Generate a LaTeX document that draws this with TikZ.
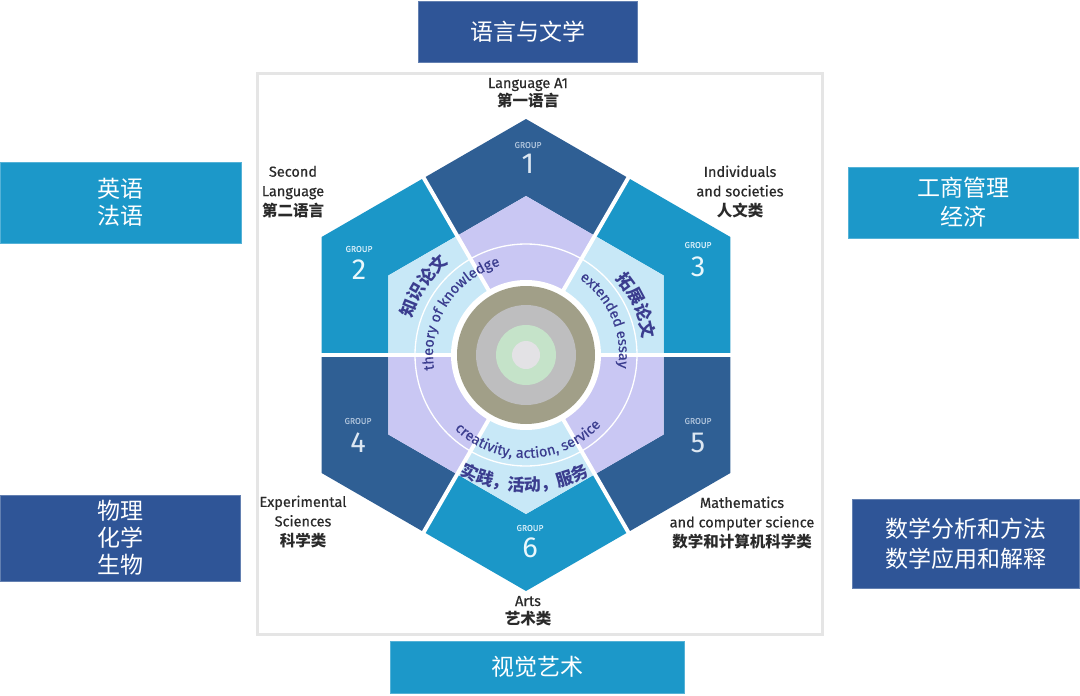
\documentclass[tikz,border=0pt]{standalone}
\usepackage{fontspec}
\setmainfont{Fira Sans}
\newfontfamily\medfont{Fira Sans}[FakeBold=0.4]
\newfontfamily\cjk{Noto Sans CJK SC}
\usetikzlibrary{decorations.text}
\definecolor{boxdark}{HTML}{2F5597}
\definecolor{boxcyan}{HTML}{1C98C9}
\definecolor{gdark}{HTML}{2F5F94}
\definecolor{gcyan}{HTML}{1B97C8}
\definecolor{lav}{HTML}{C9C7F3}
\definecolor{lblue}{HTML}{C8E8F7}
\definecolor{olive}{HTML}{A19F88}
\definecolor{cgray}{HTML}{BEBEBF}
\definecolor{cgreen}{HTML}{C5E3C9}
\definecolor{clight}{HTML}{E3E2E5}
\definecolor{arctext}{HTML}{3B3D8F}
\definecolor{labeltext}{HTML}{2A2A2A}
\definecolor{grpdark}{HTML}{AFC4DC}
\definecolor{digdark}{HTML}{DCE7F2}
\definecolor{grpcyan}{HTML}{D6EEF9}
\definecolor{digcyan}{HTML}{EAF7FC}
\tikzset{
  sidebox/.style={inner sep=0pt, align=center, text=white, fill=#1, draw=#1!75!white, line width=0.6pt,
    font=\cjk\fontsize{23}{28}\selectfont},
  lbl/.style={inner sep=0pt, align=center, text=labeltext, font=\medfont\fontsize{14.5}{19.5}\selectfont},
  grplbl/.style={inner sep=0pt, text=#1, font=\medfont\fontsize{8.5}{8.5}\selectfont},
  digit/.style={inner sep=0pt, text=#1, font=\fontsize{29}{29}\selectfont},
  arcen/.style={decorate, decoration={text along path, text align=center, text color=arctext,
    text={|\medfont\fontsize{14.5}{14.5}\selectfont|#1}}},
  arccn/.style={decorate, decoration={text along path, text align=center, text color=arctext,
    text={|\cjk\bfseries\fontsize{17}{17}\selectfont|#1}}}
}
\begin{document}
\begin{tikzpicture}[x=1pt,y=-1pt]
\useasboundingbox (0,0) rectangle (1080,696);
% panel
\node[draw=black!10, line width=3pt, fill=white, minimum width=565pt, minimum height=561pt, inner sep=0pt] (panel) at (539.5,353.5) {};
% hexagon
\begin{scope}[shift={(526,355)}, y=1pt]
  \foreach \a/\oc/\ic in {90/gdark/lav, 150/gcyan/lblue, 30/gcyan/lblue, 210/gdark/lav, -30/gdark/lav, -90/gcyan/lblue} {
    \fill[\oc] ({\a-30}:204.4) -- (\a:236) -- ({\a+30}:204.4) -- ({\a+30}:137.7) -- (\a:159) -- ({\a-30}:137.7) -- cycle;
    \fill[\ic] ({\a-30}:137.7) -- (\a:159) -- ({\a+30}:137.7) -- (0,0) -- cycle;
  }
  \foreach \a in {0,60,...,300} \draw[white, line width=4pt] (0,0) -- (\a:205);
  \draw[white, line width=1.3pt] (0,0) circle[radius=111];
  \fill[white] (0,0) circle[radius=75];
  \fill[olive] (0,0) circle[radius=69];
  \fill[cgray] (0,0) circle[radius=50];
  \fill[cgreen] (0,0) circle[radius=30];
  \fill[clight] (0,0) circle[radius=14];
  \path[arcen={theory of knowledge}] (200:93) arc[start angle=200, end angle=95, radius=93];
  \path[arcen={extended essay}] (63.5:93) arc[start angle=63.5, end angle=-16.5, radius=93];
  \path[arcen={creativity, action, service}] (211.5:103) arc[start angle=211.5, end angle=331.5, radius=103];
  \path[arccn={知识论文}] (186:120) arc[start angle=186, end angle=106, radius=120];
  \path[arccn={拓展论文}] (64:118) arc[start angle=64, end angle=-16, radius=118];
  \path[arccn={实践，活动，服务}] (209.5:136) arc[start angle=209.5, end angle=329.5, radius=136];
\end{scope}
% group labels
\node[grplbl=grpdark] (g1t) at (528,145) {GROUP};
\node[digit=digdark] (g1d) at (528,164) {1};
\node[grplbl=grpcyan] (g2t) at (359,249) {GROUP};
\node[digit=digcyan] (g2d) at (359,270) {2};
\node[grplbl=grpcyan] (g3t) at (698,245) {GROUP};
\node[digit=digcyan] (g3d) at (698,267) {3};
\node[grplbl=grpdark] (g4t) at (358,421) {GROUP};
\node[digit=digdark] (g4d) at (358,443) {4};
\node[grplbl=grpdark] (g5t) at (698,421) {GROUP};
\node[digit=digdark] (g5d) at (698,443) {5};
\node[grplbl=grpcyan] (g6t) at (530,528) {GROUP};
\node[digit=digcyan] (g6d) at (530,548) {6};
% outer labels
\node[lbl] (l1) at (528,93) {Language A1\\[-1pt]{\cjk\bfseries\fontsize{15.5}{19}\selectfont 第一语言}};
\node[lbl] (l2) at (293,192) {Second\\Language\\[1pt]{\cjk\bfseries\fontsize{15.5}{19}\selectfont 第二语言}};
\node[lbl] (l3) at (740,192) {Individuals\\and societies\\[1pt]{\cjk\bfseries\fontsize{15.5}{19}\selectfont 人文类}};
\node[lbl] (l4) at (303,522) {Experimental\\Sciences\\[1pt]{\cjk\bfseries\fontsize{15.5}{19}\selectfont 科学类}};
\node[lbl] (l5) at (742,523) {Mathematics\\and computer science\\[1pt]{\cjk\bfseries\fontsize{15.5}{19}\selectfont 数学和计算机科学类}};
\node[lbl] (l6) at (528,611) {Arts\\[-1pt]{\cjk\bfseries\fontsize{15.5}{19}\selectfont 艺术类}};
% side boxes
\node[sidebox=boxdark, minimum width=219pt, minimum height=61pt] (b1) at (527.5,31.5) {语言与文学};
\node[sidebox=boxcyan, minimum width=241pt, minimum height=81pt] (b2) at (120.5,202.5) {英语\\[-1pt]法语};
\node[sidebox=boxcyan, minimum width=230pt, minimum height=71pt] (b3) at (963,202.5) {工商管理\\[1pt]经济};
\node[sidebox=boxdark, minimum width=240pt, minimum height=86pt] (b4) at (120,538) {物理\\[-1pt]化学\\[-1pt]生物};
\node[sidebox=boxdark, minimum width=227pt, minimum height=89pt] (b5) at (965.5,543.5) {数学分析和方法\\[2pt]数学应用和解释};
\node[sidebox=boxcyan, minimum width=294pt, minimum height=52pt] (b6) at (537,667) {视觉艺术};
\end{tikzpicture}
\end{document}
